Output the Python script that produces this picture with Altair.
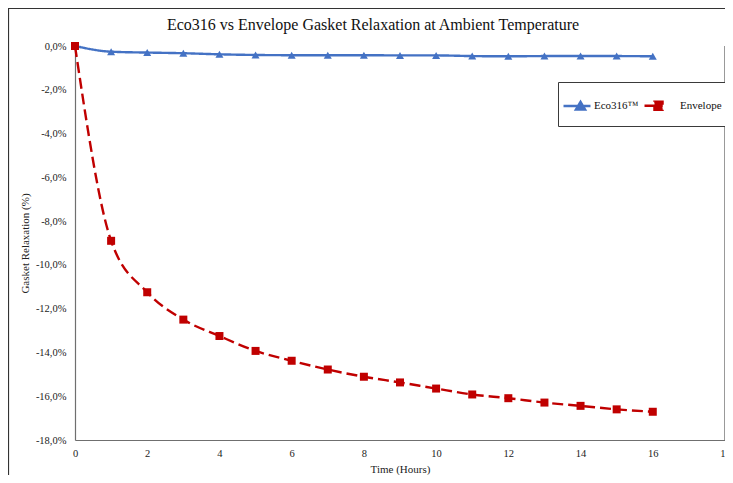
import altair as alt
import pandas as pd

# ---- data ----
hours = list(range(17))
eco316 = [0.0, -0.26, -0.30, -0.33, -0.38, -0.41, -0.42, -0.42, -0.42, -0.43,
          -0.43, -0.46, -0.47, -0.46, -0.46, -0.46, -0.47]
envelope = [0.0, -8.9, -11.25, -12.5, -13.25, -13.93, -14.38, -14.78, -15.11,
            -15.37, -15.65, -15.92, -16.09, -16.29, -16.44, -16.60, -16.71]
series_names = ["Eco316\u2122", "Envelope"]
series_colors = ["#4472C4", "#C00000"]
x_ticks = list(range(0, 19, 2))
y_ticks = list(range(-18, 1, 2))

rows = []
for h, v in zip(hours, eco316):
    rows.append({"Time": h, "Value": v, "Series": series_names[0]})
for h, v in zip(hours, envelope):
    rows.append({"Time": h, "Value": v, "Series": series_names[1]})
df = pd.DataFrame(rows)

SERIF = "Liberation Serif"
W, H = 650, 394

xenc = alt.X("Time:Q", scale=alt.Scale(domain=[0, 18], nice=False),
             axis=alt.Axis(values=x_ticks, title="Time (Hours)", ticks=False,
                           labelPadding=8, titlePadding=5, labelFlush=False,
                           gridColor="#e3e3e3", domainColor="#6f6f6f"))
yenc = alt.Y("Value:Q", scale=alt.Scale(domain=[-18, 0], nice=False),
             axis=alt.Axis(values=y_ticks, title="Gasket Relaxation (%)", ticks=False,
                           labelPadding=9, titlePadding=5, labelFlush=False,
                           labelExpr="replace(replace(format(datum.value, '.1f'), '.', ','), '\u2212', '-') + '%'",
                           gridColor="#e3e3e3", domainColor="#6f6f6f"))

# legend symbols: short line with the series marker on it
blue_path = "M-1.636,0H0.818M-0.5,0.32L-0.09,-0.36L0.32,0.32Z"
red_path = "M-2.09,0H-0.455M-1.182,-0.364H-0.455V0.364H-1.182Z"

legend_props = dict(orient="none", legendX=483, legendY=36, direction="horizontal",
                    title=None, strokeColor="#3a3a3a", fillColor="white", padding=11,
                    symbolSize=484, symbolStrokeWidth=2.5, labelOffset=0, columnPadding=0,
                    labelFont=SERIF, labelFontSize=11, labelColor="#111")


def leg():
    return alt.Legend(**legend_props)


cscale = alt.Scale(domain=series_names, range=series_colors)

lines = alt.Chart(df).mark_line(interpolate="monotone", strokeWidth=2.4).encode(
    x=xenc, y=yenc,
    color=alt.Color("Series:N", scale=cscale, legend=leg()),
    strokeDash=alt.StrokeDash("Series:N", scale=alt.Scale(domain=series_names,
                              range=[[1, 0], [11, 5]]), legend=None),
)
pts_eco = alt.Chart(df).transform_filter(
    alt.datum.Series == series_names[0]
).mark_point(filled=True, opacity=1, size=64, shape="triangle-up").encode(
    x="Time:Q", y="Value:Q", color=alt.Color("Series:N", scale=cscale, legend=leg()))
pts_env = alt.Chart(df).transform_filter(
    alt.datum.Series == series_names[1]
).mark_point(filled=True, opacity=1, size=64, shape="square").encode(
    x="Time:Q", y="Value:Q", color=alt.Color("Series:N", scale=cscale, legend=leg()))

legend_layer = alt.Chart(df).transform_filter("false").mark_point(
    filled=True, opacity=1, size=484, strokeWidth=2.5).encode(
    color=alt.Color("Series:N", scale=cscale, legend=leg()),
    stroke=alt.Stroke("Series:N", scale=cscale, legend=leg()),
    shape=alt.Shape("Series:N", scale=alt.Scale(domain=series_names,
                    range=[blue_path, red_path]), legend=leg()),
)

right_line = alt.Chart(alt.Data(values=[{"a": 1}])).mark_rule(
    color="#555", strokeWidth=1.2).encode(
    x=alt.datum(18), y=alt.datum(0), y2=alt.datum(-18))
frame = alt.Chart(alt.Data(values=[{"a": 1}])).mark_rect(
    fill=None, stroke="#333", strokeWidth=1.2).encode(
    x=alt.value(-66.5), x2=alt.value(W + 30), y=alt.value(-37.5), y2=alt.value(H + 60))

chart = alt.layer(frame, right_line, lines, pts_eco, pts_env, legend_layer).properties(
    width=W, height=H,
    autosize=alt.AutoSizeParams(type="none"),
    padding={"left": 67, "top": 38, "right": 0, "bottom": 35},
    title=alt.Title("Eco316 vs Envelope Gasket Relaxation at Ambient Temperature",
                    font=SERIF, fontSize=16, fontWeight="normal", color="#111",
                    anchor="middle", dx=-27, offset=0, dy=38, baseline="alphabetic"),
).configure_axis(
    labelFont=SERIF, labelFontSize=10.5, labelColor="#222",
    titleFont=SERIF, titleFontSize=11, titleFontWeight="normal", titleColor="#222",
    domainWidth=1.2,
).configure_view(stroke=None)

chart.save("out.html", embed_options={"renderer": "svg", "actions": False})
